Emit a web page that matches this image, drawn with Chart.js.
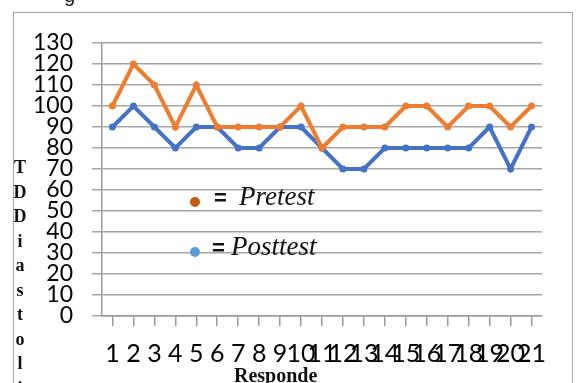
<!DOCTYPE html>
<html>
<head>
<meta charset="utf-8">
<script src="https://cdn.jsdelivr.net/npm/chart.js@4"></script>
<style>
  body { margin: 0; background: #fff; }
  #wrap { position: relative; width: 576px; height: 383px; overflow: hidden; background: #fff; }
  #frame { position: absolute; left: 13px; top: 12px; width: 558px; height: 400px; border: 1px solid #a6a6a6; }
  canvas { position: absolute; left: 0; top: 0; }
  .ytitle { position: absolute; left: 11px; top: 155px; width: 18px; text-align: center;
    font: bold 18px "Liberation Serif", serif; line-height: 24.5px; color: #111; }
  .xtitle { position: absolute; left: 234px; top: 364px; font: bold 20px "Liberation Serif", serif; color: #111; }
  .top { position: absolute; left: 64px; top: -16px; font: 20px "Liberation Sans", sans-serif; color: #222; }
  .key { position: absolute; font: italic 27px "Liberation Serif", serif; color: #111; white-space: nowrap; }
  .key .dot { position: absolute; width: 10px; height: 10px; border-radius: 50%; }
  .key .eq { font: bold 22px "Liberation Sans", sans-serif; font-style: normal; }
</style>
</head>
<body>
<div id="wrap">
  <div id="frame"></div>
  <canvas id="myChart" width="576" height="383"></canvas>
  <div class="top">g</div>
  <div class="ytitle" id="ytitle"></div>
  <div class="xtitle">Responde</div>
  <div class="key" style="left:190px; top:181px;"><span class="dot" style="left:0; top:16px; background:#c65911;"></span><span style="padding-left:24px" class="eq">=&nbsp;&nbsp;</span>Pretest</div>
  <div class="key" style="left:190px; top:231px;"><span class="dot" style="left:0; top:16px; background:#5b9bd5;"></span><span style="padding-left:22px" class="eq">=&nbsp;</span>Posttest</div>
</div>
<script>
// 응답자 번호
const labels = ["1","2","3","4","5","6","7","8","9","10","11","12","13","14","15","16","17","18","19","20","21"];
// 사전/사후 검사 값
const pretest = [100,120,110,90,110,90,90,90,90,100,80,90,90,90,100,100,90,100,100,90,100];
const posttest = [90,100,90,80,90,90,80,80,90,90,80,70,70,80,80,80,80,80,90,70,90];
const yMin = 0;
const yMax = 130;
const yStep = 10;
const yTitle = "TDDiastolik";

// 세로 제목은 글자 하나씩 줄바꿈
document.getElementById("ytitle").innerHTML = yTitle.split("").join("<br>");

const ctx = document.getElementById("myChart").getContext("2d");

const myChart = new Chart(ctx, {
  type: "line",
  data: {
    labels: labels,
    datasets: [
      {
        label: "Pretest",
        data: pretest,
        borderColor: "#ed7d31",
        backgroundColor: "#ed7d31",
        borderWidth: 4,
        pointRadius: 3.5,
        pointBorderWidth: 0,
        tension: 0,
      },
      {
        label: "Posttest",
        data: posttest,
        borderColor: "#4472c4",
        backgroundColor: "#4472c4",
        borderWidth: 4,
        pointRadius: 3.5,
        pointBorderWidth: 0,
        tension: 0,
      },
    ],
  },
  options: {
    responsive: false,
    devicePixelRatio: 1,
    animation: false,
    layout: { padding: { top: 43, right: 34, left: 0, bottom: 0 } },
    plugins: { legend: { display: false }, tooltip: { enabled: false } },
    scales: {
      x: {
        offset: true,
        afterFit: (s) => { s.height = 67; },
        grid: { drawOnChartArea: false, drawTicks: true, tickLength: 10, color: "#999", lineWidth: 1.5 },
        border: { display: true, color: "#999", width: 1.5 },
        ticks: {
          autoSkip: false, maxRotation: 0, minRotation: 0, padding: 13,
          color: "#000", font: { family: "Lato", size: 25 },
        },
      },
      y: {
        min: yMin,
        max: yMax,
        afterFit: (s) => { s.width = 102; },
        grid: { color: "#a6a6a6", lineWidth: 1.5, tickLength: 10 },
        border: { display: true, color: "#999", width: 1.5 },
        ticks: {
          autoSkip: false, stepSize: yStep, padding: 19,
          color: "#000", font: { family: "Lato", size: 23 },
        },
      },
    },
  },
});
</script>
</body>
</html>
